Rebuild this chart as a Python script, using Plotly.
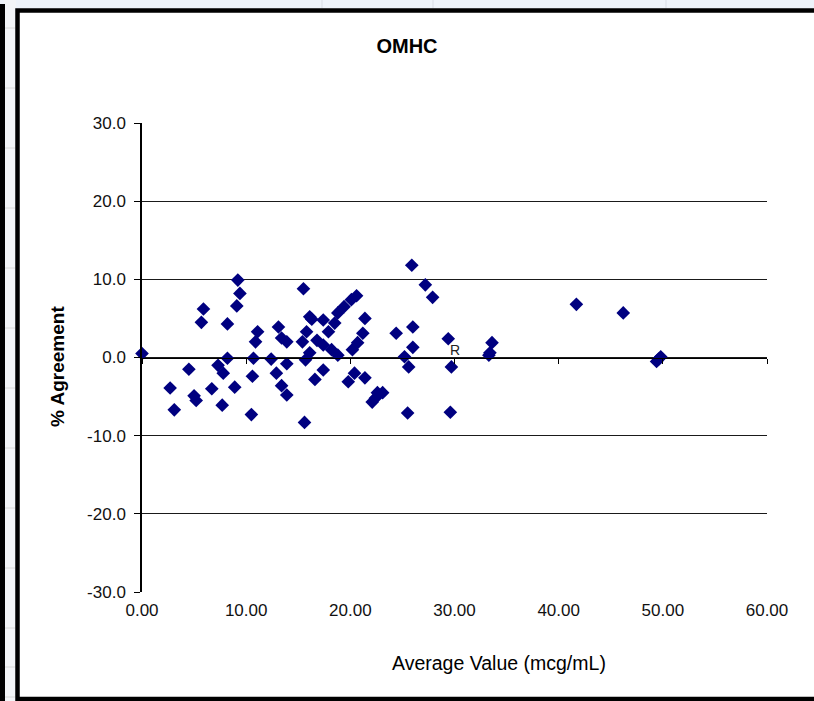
import plotly.graph_objects as go

# ---- data ----
avg_value = [0.0, 2.7, 3.1, 4.5, 5.0, 5.2, 5.7, 5.9, 6.7, 7.3, 7.7, 7.8, 8.2, 8.2, 8.9,
             9.1, 9.2, 9.4, 10.5, 10.6, 10.7, 10.9, 11.1, 12.4, 12.9, 13.1, 13.4, 13.4,
             13.9, 13.9, 13.9, 15.4, 15.5, 15.6, 15.7, 15.8, 16.1, 16.1, 16.3, 16.6,
             16.8, 17.4, 17.4, 17.4, 17.9, 18.2, 18.5, 18.8, 18.8, 19.4, 19.8, 20.1,
             20.2, 20.4, 20.6, 20.7, 21.2, 21.4, 21.4, 22.1, 22.4, 22.6, 23.1, 24.4,
             25.2, 25.5, 25.6, 25.9, 26.0, 26.0, 27.2, 27.9, 29.4, 29.6, 29.7, 33.3,
             33.4, 33.6, 41.7, 46.2, 49.4, 49.6, 49.8]
pct_agreement = [0.5, -3.9, -6.7, -1.5, -4.9, -5.5, 4.5, 6.2, -4.0, -1.0, -6.1, -2.0, 4.3, -0.1, -3.8,
                 6.6, 9.9, 8.2, -7.3, -2.4, -0.1, 2.0, 3.3, -0.2, -2.0, 3.9, 2.5, -3.6,
                 2.0, -0.8, -4.8, 2.0, 8.8, -8.3, -0.3, 3.3, 5.2, 0.6, 4.9, -2.8,
                 2.2, 4.8, 1.6, -1.6, 3.3, 1.0, 4.4, 5.7, 0.3, 6.5, -3.1, 7.4,
                 1.0, -2.0, 7.9, 1.9, 3.1, 5.0, -2.6, -5.7, -5.2, -4.5, -4.5, 3.1,
                 0.1, -7.1, -1.2, 11.8, 3.9, 1.3, 9.3, 7.7, 2.4, -7.0, -1.2, 0.3,
                 0.6, 1.9, 6.8, 5.7, -0.5, -0.2, 0.1]
x_ticks = [0, 10, 20, 30, 40, 50, 60]
x_tick_labels = ["0.00", "10.00", "20.00", "30.00", "40.00", "50.00", "60.00"]
y_ticks = [-30, -20, -10, 0, 10, 20, 30]
y_tick_labels = ["-30.0", "-20.0", "-10.0", "0.0", "10.0", "20.0", "30.0"]

W, H = 814, 701
L, R, T, B = 142, 47, 123, 109
PW, PH = W - L - R, H - T - B


def px(xp):
    return (xp - L) / PW


def py(yp):
    return (H - B - yp) / PH


FONT = "Liberation Sans, Arial, sans-serif"

fig = go.Figure()
fig.add_trace(go.Scatter(
    x=avg_value, y=pct_agreement, mode="markers",
    marker=dict(symbol="diamond", size=10.5, color="#000080", line=dict(width=0)),
    showlegend=False, cliponaxis=False,
))
# invisible trace on the secondary x axis (zero line with ticks)
fig.add_trace(go.Scatter(x=[0, 60], y=[0, 0], xaxis="x2", mode="lines",
                         line=dict(width=0), hoverinfo="skip", showlegend=False))

shapes = []
# spreadsheet background strips
shapes.append(dict(type="rect", xref="paper", yref="paper", x0=px(0), x1=px(W), y0=py(0), y1=py(9),
                   fillcolor="#eef3fa", line=dict(width=0), layer="below"))
shapes.append(dict(type="rect", xref="paper", yref="paper", x0=px(4), x1=px(16), y0=py(0), y1=py(H),
                   fillcolor="#f3f5f8", line=dict(width=0), layer="below"))
for yy in [28, 88, 148, 208, 268, 328, 388, 448, 508, 568, 628, 667, 697]:
    shapes.append(dict(type="line", xref="paper", yref="paper", x0=px(5), x1=px(15), y0=py(yy), y1=py(yy),
                       line=dict(color="#d8d8d8", width=1)))
for xx in [322, 433, 666]:
    shapes.append(dict(type="line", xref="paper", yref="paper", x0=px(xx), x1=px(xx), y0=py(0), y1=py(8),
                       line=dict(color="#d8dde5", width=1)))
# left outer black bar
shapes.append(dict(type="line", xref="paper", yref="paper", x0=px(2.5), x1=px(2.5), y0=py(4), y1=py(H),
                   line=dict(color="black", width=5)))
# chart frame
shapes.append(dict(type="rect", xref="paper", yref="paper", x0=px(17.5), x1=px(W + 10), y0=py(10.5), y1=py(699),
                   line=dict(color="black", width=4.5), fillcolor="rgba(0,0,0,0)"))

fig.update_layout(
    width=W, height=H,
    margin=dict(l=L, r=R, t=T, b=B),
    paper_bgcolor="white", plot_bgcolor="white",
    font=dict(family=FONT, size=17, color="#111111"),
    title=dict(text="<b>OMHC</b>", x=0.5, xref="container", xanchor="center",
               y=1 - 46 / H, yref="container", yanchor="middle",
               font=dict(family=FONT, size=20, color="#000000")),
    xaxis=dict(range=[0, 60], tickvals=x_ticks, ticktext=x_tick_labels,
               showgrid=False, zeroline=False, showline=False, ticks="",
               ticklabelstandoff=6, tickfont=dict(size=17, color="#111111")),
    xaxis2=dict(range=[0, 60], tickvals=x_ticks, overlaying="x", anchor="free", position=0.5,
                showgrid=False, zeroline=False, showline=True, linecolor="black", linewidth=1.3,
                ticks="outside", ticklen=5, tickcolor="black", tickwidth=1, showticklabels=False),
    yaxis=dict(range=[-30, 30], tickvals=y_ticks, ticktext=y_tick_labels,
               showgrid=True, gridcolor="#1a1a1a", gridwidth=1.3, zeroline=False,
               showline=True, linecolor="black", linewidth=1.5,
               ticks="outside", ticklen=6, tickcolor="black", tickwidth=1,
               ticklabelstandoff=5, tickfont=dict(size=17, color="#111111")),
    shapes=shapes,
    annotations=[
        dict(text="<b>% Agreement</b>", xref="paper", yref="paper", x=px(57), y=py(367),
             textangle=-90, showarrow=False, font=dict(family=FONT, size=19, color="#000000"),
             xanchor="center", yanchor="middle"),
        dict(text="Average Value (mcg/mL)", xref="paper", yref="paper", x=px(499), y=py(663),
             showarrow=False, font=dict(family=FONT, size=19.5, color="#000000"),
             xanchor="center", yanchor="middle"),
        dict(text="R", xref="x", yref="y", x=30.05, y=1.0, showarrow=False,
             font=dict(family=FONT, size=14, color="#222222"), xanchor="center", yanchor="middle"),
    ],
)

fig.write_html("out.html", config={"displayModeBar": False},
               post_script="document.body.style.margin='0px';document.body.style.overflow='hidden';")
